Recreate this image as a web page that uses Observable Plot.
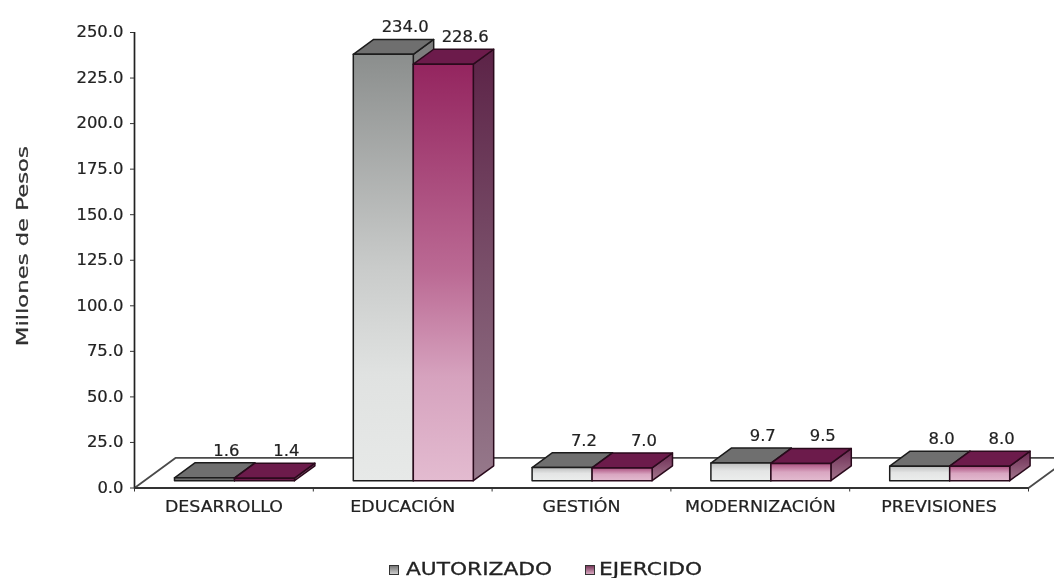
<!DOCTYPE html>
<html lang="es">
<head>
<meta charset="utf-8">
<script src="https://cdn.jsdelivr.net/npm/d3@7"></script>
<script src="https://cdn.jsdelivr.net/npm/@observablehq/plot@0.6"></script>
<style>
  html,body{margin:0;padding:0;background:#fff;overflow:hidden}
  #chart svg{display:block;filter:blur(0.5px)}
  #chart svg text{stroke:#222;stroke-width:0.2px}
  #legend{position:relative;height:22px;font-family:"DejaVu Sans",sans-serif;font-size:17.5px;color:#222;filter:blur(0.5px);-webkit-text-stroke:0.3px #222}
  #legend span{position:absolute;top:3px;line-height:20px;transform-origin:left center;transform:scaleX(1.24);white-space:nowrap}
  #legend i{position:absolute;top:9px;width:8px;height:8px;border:1.6px solid #333;box-sizing:content-box}
</style>
</head>
<body>
<div id="chart"></div>
<div id="legend">
  <i style="left:389px;background:linear-gradient(#777,#ccc)"></i><span style="left:406px">AUTORIZADO</span>
  <i style="left:585px;background:linear-gradient(#7a3a5c,#d8a8c0)"></i><span style="left:599px">EJERCIDO</span>
</div>
<script>
const categories = ["DESARROLLO", "EDUCACIÓN", "GESTIÓN", "MODERNIZACIÓN", "PREVISIONES"];
const autorizado = [1.6, 234.0, 7.2, 9.7, 8.0];
const ejercido   = [1.4, 228.6, 7.0, 9.5, 8.0];
const yTicks     = [0, 25, 50, 75, 100, 125, 150, 175, 200, 225, 250];
const yTitle     = "Millones de Pesos";

// 3D projection, expressed in scale units (1 x unit = one category)
const barLeft = 0.2237, barW = 0.3356, depthX = 0.114, depthY = 8.2, baseY = 4.0;
const floorX = 0.229, floorY = 16.5;

const poly = (pts, fill, stroke, strokeWidth = 1.5) =>
  Plot.line([...pts, pts[0]].map(([x, y]) => ({x, y})),
    {x: "x", y: "y", fill, stroke, strokeWidth, strokeLinejoin: "round"});

function bar(i, s, value, front, sideFill, topFill, stroke) {
  const x0 = i + barLeft + s * barW, x1 = x0 + barW;
  const y0 = baseY, y1 = baseY + value;
  return [
    poly([[x1, y0], [x1 + depthX, y0 + depthY], [x1 + depthX, y1 + depthY], [x1, y1]], sideFill, stroke),
    poly([[x0, y1], [x1, y1], [x1 + depthX, y1 + depthY], [x0 + depthX, y1 + depthY]], topFill, stroke),
    poly([[x0, y0], [x1, y0], [x1, y1], [x0, y1]], value < 3 ? topFill : front, stroke)
  ];
}

const gradient = (id, stops) => {
  const g = d3.create("svg:linearGradient").attr("id", id).attr("x1", 0).attr("y1", 0).attr("x2", 0).attr("y2", 1);
  stops.forEach(([o, c]) => g.append("stop").attr("offset", o).attr("stop-color", c));
  return g.node();
};
const defs = () => {
  const d = d3.create("svg:defs");
  [
    gradient("greyTall", [[0, "#8b8e8d"], [0.5, "#c9cbca"], [0.75, "#e0e2e1"], [1, "#e7e9e8"]]),
    gradient("plumTall", [[0, "#94255f"], [0.5, "#bb6a94"], [0.75, "#d6a2be"], [1, "#e3bbd0"]]),
    gradient("greyShort", [[0, "#bdbebe"], [0.45, "#e4e5e5"], [1, "#eceeed"]]),
    gradient("plumShort", [[0, "#ab4f7f"], [0.5, "#d9a6c1"], [1, "#e3bbd0"]]),
    gradient("greySide", [[0, "#7c7c7c"], [1, "#a0a0a0"]]),
    gradient("plumSide", [[0, "#5c2347"], [1, "#96798b"]]),
    gradient("plumSideShort", [[0, "#6b2a52"], [1, "#a5788f"]])
  ].forEach(g => d.node().append(g));
  return d.node();
};

const bars = categories.flatMap((_, i) => {
  const tall = autorizado[i] > 50;
  return [
    ...bar(i, 0, autorizado[i], `url(#grey${tall ? "Tall" : "Short"})`, "url(#greySide)", "#6f6f6f", "#1c1c1c"),
    ...bar(i, 1, ejercido[i], `url(#plum${tall ? "Tall" : "Short"})`, tall ? "url(#plumSide)" : "url(#plumSideShort)", "#6c1b4b", "#2a0a1c")
  ];
});

const labels = (values, s) => Plot.text(values, {
  x: (_, i) => i + barLeft + s * barW + 0.29,
  y: v => baseY + v + depthY + 6.5,
  text: v => v.toFixed(1),
  fontSize: 15, fill: "#222"
});

const plot = Plot.plot({
  width: 1054, height: 556,
  marginLeft: 134, marginRight: 26, marginTop: 32, marginBottom: 68.5,
  style: {fontFamily: "'DejaVu Sans', sans-serif", color: "#222", background: "#fff"},
  x: {type: "linear", domain: [0, 5]},
  y: {domain: [0, 250]},
  marks: [
    defs,
    poly([[0, 0], [5, 0], [5 + floorX, floorY], [floorX, floorY]], "#fff", "#4a4a4a", 1.8),
    Plot.ruleX([0], {y1: 0, y2: 250, stroke: "#222", strokeWidth: 1.7}),
    Plot.ruleY([0], {x1: 0, x2: 5, stroke: "#333", strokeWidth: 1.8}),
    Plot.axisY({ticks: yTicks, tickSize: 4, tickPadding: 7, tickFormat: d => d.toFixed(1), label: null, fontSize: 15, stroke: "#333"}),
    Plot.axisX({ticks: [0, 1, 2, 3, 4, 5], tickSize: 4, tickFormat: () => "", label: null, stroke: "#333"}),
    Plot.axisX({ticks: categories.map((_, i) => i + 0.5), tickSize: 0, tickPadding: 13, tickFormat: d => categories[Math.floor(d)], label: null, fontSize: 15}),
    Plot.text([yTitle], {x: -0.626, y: 132.7, rotate: -90, fontSize: 16, fill: "#333", text: d => d}),
    ...bars,
    labels(autorizado, 0),
    labels(ejercido, 1)
  ]
});
document.getElementById("chart").append(plot);

// the original's lettering is wider than any installed face: stretch it along the baseline
d3.select(plot).selectAll("text").each(function () {
  const len = this.getComputedTextLength();
  if (!len) return;
  const t = this.textContent;
  const k = t === yTitle ? 1.42 : categories.includes(t) ? 1.16 : 1.095;
  this.setAttribute("textLength", len * k);
  this.setAttribute("lengthAdjust", "spacingAndGlyphs");
});
</script>
</body>
</html>
